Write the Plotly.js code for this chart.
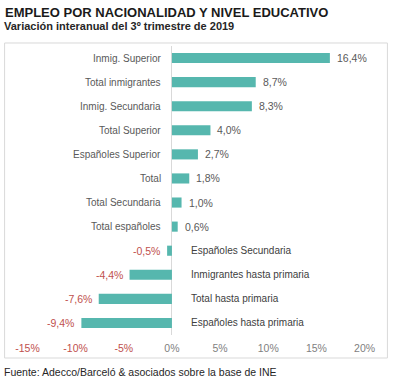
<!DOCTYPE html>
<html>
<head>
<meta charset="utf-8">
<script src="https://cdn.plot.ly/plotly-3.0.1.min.js"></script>
<style>html,body{margin:0;padding:0;background:#fff;}#chart{width:394px;height:380px;}</style>
</head>
<body>
<div id="chart"></div>
<script>
const categories = ["Inmig. Superior","Total inmigrantes","Inmig. Secundaria","Total Superior","Españoles Superior","Total","Total Secundaria","Total españoles","Españoles Secundaria","Inmigrantes hasta primaria","Total hasta primaria","Españoles hasta primaria"];
const values = [16.4, 8.7, 8.3, 4.0, 2.7, 1.8, 1.0, 0.6, -0.5, -4.4, -7.6, -9.4];
const tickValues = [-15, -10, -5, 0, 5, 10, 15, 20];
const tickLabels = ["-15%","-10%","-5%","0%","5%","10%","15%","20%"];

const teal = "#56b7ae";
const red = "#c0504d";
const gray = "#595959";
const font = "Liberation Sans, Arial, sans-serif";

const fmt = v => v.toFixed(1).replace(".", ",") + "%";

const trace = {
  type: "bar",
  orientation: "h",
  y: categories,
  x: values,
  marker: {color: teal},
  cliponaxis: false,
  hoverinfo: "none"
};

const annotations = [];
categories.forEach((c, i) => {
  const pos = values[i] >= 0;
  annotations.push({
    x: 0, y: c, xref: "x", yref: "y",
    text: c,
    showarrow: false,
    xanchor: pos ? "right" : "left",
    xshift: pos ? -9 : 17,
    font: {family: font, size: 10, color: pos ? gray : "#404040"}
  });
  annotations.push({
    x: values[i], y: c, xref: "x", yref: "y",
    text: fmt(values[i]),
    showarrow: false,
    xanchor: pos ? "left" : "right",
    xshift: pos ? 5 : -5,
    font: {family: font, size: 10.5, color: pos ? gray : red}
  });
});

annotations.push({
  xref: "paper", yref: "paper", x: -0.029, y: (335 - 372) / 289, xanchor: "left", yanchor: "middle",
  text: "Fuente: Adecco/Barceló & asociados sobre la base de INE",
  showarrow: false, font: {family: font, size: 10.5, color: "#262626"}
});
annotations.push({
  xref: "paper", yref: "paper", x: -0.029, y: (335 - 26) / 289, xanchor: "left", yanchor: "middle",
  text: "<b>Variación interanual del 3º trimestre de 2019</b>",
  showarrow: false, font: {family: font, size: 11, color: "#262626"}
});

const layout = {
  width: 394, height: 380,
  margin: {l: 12.5, r: 14.5, t: 46, b: 45},
  paper_bgcolor: "#fff", plot_bgcolor: "#fff",
  showlegend: false,
  bargap: 0.58,
  title: {
    text: "<b>EMPLEO POR NACIONALIDAD Y NIVEL EDUCATIVO</b>",
    x: 5/394, xref: "container", xanchor: "left",
    y: 1 - 12/380, yref: "container", yanchor: "middle",
    font: {family: font, size: 13, color: "#1a1a1a"}
  },
  xaxis: {
    range: [-16.5, 21.5],
    tickvals: tickValues,
    ticktext: tickLabels.map((t, i) => tickValues[i] < 0 ? '<span style="color:' + red + '">' + t + '</span>' : t),
    tickfont: {family: font, size: 10.5, color: "#7f7f7f"},
    ticklabelstandoff: 5,
    showgrid: false,
    zeroline: true, zerolinecolor: "#d9d9d9", zerolinewidth: 1,
    showline: false, ticks: "", fixedrange: true
  },
  yaxis: {
    autorange: "reversed",
    showticklabels: false, showgrid: false, zeroline: false, showline: false, ticks: "", fixedrange: true
  },
  shapes: [{
    type: "rect", xref: "paper", yref: "paper",
    x0: -0.023, x1: 1.023, y0: -0.0796, y1: 1.0104,
    line: {color: "#d9d9d9", width: 1}, fillcolor: "rgba(0,0,0,0)", layer: "below"
  }],
  annotations: annotations
};

Plotly.newPlot("chart", [trace], layout, {staticPlot: true, displayModeBar: false});
</script>
</body>
</html>
